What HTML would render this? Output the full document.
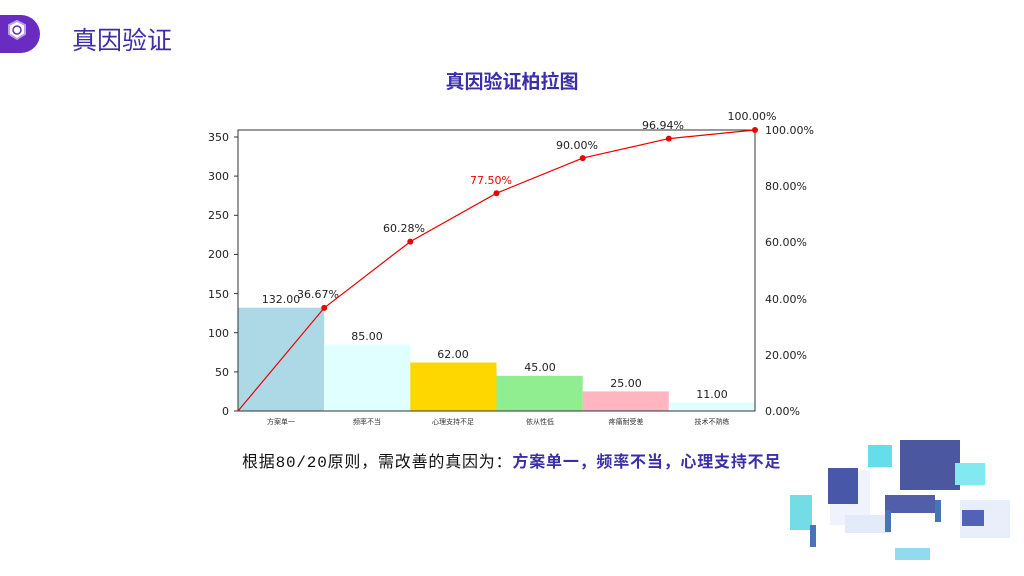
<!DOCTYPE html>
<html><head><meta charset="utf-8"><style>
html,body{margin:0;width:1024px;height:576px;background:#fff;overflow:hidden;position:relative;font-family:"Liberation Sans","Noto Sans CJK SC",sans-serif}
.tab{position:absolute;left:-20px;top:15px;width:60px;height:38px;border-radius:19px;background:#6a2cc0}
.h{position:absolute;left:72px;top:21px;font-size:25px;color:#3b2fa8}
</style></head><body>
<div class="tab"></div>
<svg style="position:absolute;left:0;top:0" width="40" height="60"><polygon points="17,21 25,25 25,34 17,39 9,34 9,25" fill="#fff" stroke="#b9a2e6" stroke-width="2"/><circle cx="17" cy="30" r="4" fill="none" stroke="#6a2cc0" stroke-width="1.5"/></svg>
<div class="h">真因验证</div>
<svg width="1024" height="576" style="position:absolute;left:0;top:0;overflow:hidden" font-family="DejaVu Sans, Liberation Sans, Noto Sans CJK SC, sans-serif">
<text x="512" y="88" text-anchor="middle" font-size="19" font-weight="bold" fill="#3b2fa8" font-family="Liberation Sans, Noto Sans CJK SC, sans-serif">真因验证柏拉图</text>
<g>
<rect x="238" y="307.7" width="86.2" height="103.3" fill="#add8e6"/>
<rect x="324.2" y="344.5" width="86.1" height="66.5" fill="#e0ffff"/>
<rect x="410.3" y="362.5" width="86.2" height="48.5" fill="#ffd700"/>
<rect x="496.5" y="375.8" width="86.2" height="35.2" fill="#90ee90"/>
<rect x="582.7" y="391.4" width="86.1" height="19.6" fill="#ffb6c1"/>
<rect x="668.8" y="402.4" width="86.2" height="8.6" fill="#e0ffff"/>
</g>
<rect x="238" y="130" width="517" height="281" fill="none" stroke="#333" stroke-width="1"/>
<g font-size="11" fill="#222" text-anchor="middle">
<text x="281" y="303">132.00</text><text x="367" y="340">85.00</text><text x="453" y="358">62.00</text><text x="540" y="371">45.00</text><text x="626" y="387">25.00</text><text x="712" y="398">11.00</text>
<text x="318" y="298">36.67%</text><text x="404" y="232">60.28%</text><text x="491" y="184" fill="#e00">77.50%</text><text x="577" y="149">90.00%</text><text x="663" y="129">96.94%</text><text x="752" y="120">100.00%</text>
</g>
<polyline points="238,411 324.2,307.9 410.3,241.6 496.5,193.2 582.7,158.1 668.8,138.6 755,130" fill="none" stroke="#e00" stroke-width="1.2"/>
<g fill="#e00"><circle cx="324.2" cy="307.9" r="3"/><circle cx="410.3" cy="241.6" r="3"/><circle cx="496.5" cy="193.2" r="3"/><circle cx="582.7" cy="158.1" r="3"/><circle cx="668.8" cy="138.6" r="3"/><circle cx="755" cy="130" r="3"/></g>
<g stroke="#333">
<line x1="234" y1="411" x2="238" y2="411"/><line x1="234" y1="371.9" x2="238" y2="371.9"/><line x1="234" y1="332.7" x2="238" y2="332.7"/><line x1="234" y1="293.6" x2="238" y2="293.6"/><line x1="234" y1="254.4" x2="238" y2="254.4"/><line x1="234" y1="215.3" x2="238" y2="215.3"/><line x1="234" y1="176.1" x2="238" y2="176.1"/><line x1="234" y1="137" x2="238" y2="137"/>
</g>
<g font-size="11" fill="#222" text-anchor="end">
<text x="229" y="415">0</text><text x="229" y="376">50</text><text x="229" y="337">100</text><text x="229" y="298">150</text><text x="229" y="258">200</text><text x="229" y="219">250</text><text x="229" y="180">300</text><text x="229" y="141">350</text>
</g>
<g font-size="11" fill="#222">
<text x="765" y="415">0.00%</text><text x="765" y="359">20.00%</text><text x="765" y="303">40.00%</text><text x="765" y="246">60.00%</text><text x="765" y="190">80.00%</text><text x="765" y="134">100.00%</text>
</g>
<g font-size="7" fill="#333" text-anchor="middle">
<text x="281" y="424">方案单一</text><text x="367" y="424">频率不当</text><text x="453" y="424">心理支持不足</text><text x="540" y="424">依从性低</text><text x="626" y="424">疼痛耐受差</text><text x="712" y="424">技术不熟练</text>
</g>
<text x="242" y="467" font-size="16" letter-spacing="0.8" fill="#111" font-family="Liberation Mono, Noto Sans CJK SC, monospace">根据80/20原则，需改善的真因为：<tspan fill="#3b2fa8" font-weight="bold">方案单一，频率不当，心理支持不足</tspan></text>
<g opacity="0.85">
<rect x="830" y="470" width="40" height="55" fill="#eef2fb"/><rect x="828" y="468" width="30" height="36" fill="#2a3a9a"/>
<rect x="900" y="440" width="60" height="50" fill="#2c3a8e"/>
<rect x="868" y="445" width="24" height="22" fill="#4ad9e8"/>
<rect x="955" y="463" width="30" height="22" fill="#6ee6ef"/>
<rect x="790" y="495" width="22" height="35" fill="#5cd6e0"/>
<rect x="885" y="495" width="50" height="18" fill="#33449c"/>
<rect x="845" y="515" width="45" height="18" fill="#dfe7fa"/>
<rect x="960" y="500" width="50" height="38" fill="#e6ecfb"/><rect x="962" y="510" width="22" height="16" fill="#3547aa"/>
<rect x="895" y="548" width="35" height="12" fill="#7fd4ee"/>
<rect x="810" y="525" width="6" height="22" fill="#2b5da8"/><rect x="885" y="510" width="6" height="22" fill="#2b5da8"/><rect x="935" y="500" width="6" height="22" fill="#2b5da8"/>
</g>
</svg>
</body></html>
